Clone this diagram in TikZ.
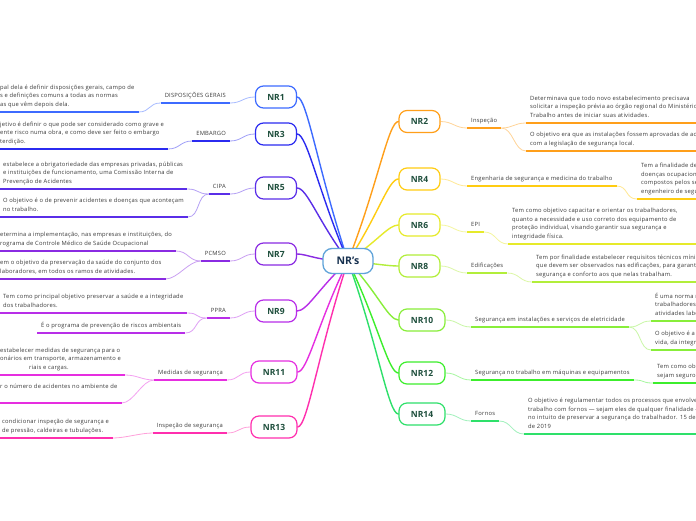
\documentclass[tikz,border=0pt]{standalone}
\usepackage{fontspec}
\setmainfont{Open Sans}
\newfontfamily\mapfont[LetterSpace=4]{Open Sans}
\usetikzlibrary{backgrounds}
\definecolor{rootc}{HTML}{5FA3D9}
\definecolor{roott}{HTML}{173150}
\definecolor{nrt}{HTML}{1F4F3D}
\definecolor{txt}{HTML}{3A3A3A}
\definecolor{c1}{HTML}{3D6BFF}
\definecolor{c3}{HTML}{2B2BF0}
\definecolor{c5}{HTML}{5A2EE8}
\definecolor{c7}{HTML}{8A2BE2}
\definecolor{c9}{HTML}{B82EE8}
\definecolor{c11}{HTML}{E62EE0}
\definecolor{c13}{HTML}{FF2FAE}
\definecolor{c2}{HTML}{FF9F1A}
\definecolor{c4}{HTML}{FFCC11}
\definecolor{c6}{HTML}{E6EA2A}
\definecolor{c8}{HTML}{B2EE3A}
\definecolor{c10}{HTML}{88EE3A}
\definecolor{c12}{HTML}{3CEE2C}
\definecolor{c14}{HTML}{2EE06A}
\tikzstyle{root}=[fill=white, draw=rootc, line width=1.3pt, rounded corners=9pt, minimum width=50pt, minimum height=25pt, text=roott, font=\fontsize{10.5}{12}\selectfont\bfseries]
\tikzstyle{nr}=[fill=white, line width=1.2pt, rounded corners=8pt, minimum width=41pt, minimum height=22pt, text=nrt, font=\fontsize{8.5}{10}\selectfont\bfseries]
\tikzstyle{nrw}=[nr, minimum width=46pt]
\tikzstyle{topic}=[text=txt, font=\mapfont\fontsize{5.8}{7}\selectfont, inner xsep=4pt, inner ysep=3.6pt, text height=4.3pt, text depth=1.5pt]
\tikzstyle{leaf}=[text=txt, font=\mapfont\fontsize{5.8}{8.5}\selectfont, align=left, inner xsep=4pt, inner ysep=3.2pt, execute at begin node=\strut, execute at end node=\strut]
\tikzstyle{branch}=[line width=1.4pt, line cap=round]
\tikzstyle{link}=[line width=0.8pt]
\tikzstyle{ul}=[line width=1.6pt]

\begin{document}
\begin{tikzpicture}[x=1pt, y=-1pt]
		\useasboundingbox (0,0) rectangle (696,520);
		\coordinate (edge) at (700,0);

		\node[style=root] (root) at (348,261) {NR's};

		\node[style=nr, draw=c1] (nr1) at (276,97) {NR1};
		\node[style=nr, draw=c3] (nr3) at (276,134) {NR3};
		\node[style=nr, draw=c5] (nr5) at (276,188) {NR5};
		\node[style=nr, draw=c7] (nr7) at (276,254) {NR7};
		\node[style=nr, draw=c9] (nr9) at (276,311) {NR9};
		\node[style=nrw, draw=c11] (nr11) at (274,372) {NR11};
		\node[style=nrw, draw=c13] (nr13) at (274,427) {NR13};

		\node[style=nr, draw=c2] (nr2) at (419.5,121.5) {NR2};
		\node[style=nr, draw=c4] (nr4) at (419.5,179) {NR4};
		\node[style=nr, draw=c6] (nr6) at (419.5,225) {NR6};
		\node[style=nr, draw=c8] (nr8) at (419.5,266) {NR8};
		\node[style=nrw, draw=c10] (nr10) at (422,320) {NR10};
		\node[style=nrw, draw=c12] (nr12) at (422,373) {NR12};
		\node[style=nrw, draw=c14] (nr14) at (422,414) {NR14};

		\node[style=topic, anchor=south east] (t1) at (230,103) {DISPOSIÇÕES GERAIS};
		\node[style=topic, anchor=south east] (t3) at (230,141) {EMBARGO};
		\node[style=topic, anchor=south east] (t5) at (230,194) {CIPA};
		\node[style=topic, anchor=south east] (t7) at (230,261) {PCMSO};
		\node[style=topic, anchor=south east] (t9) at (230,318) {PPRA};
		\node[style=topic, anchor=south east] (t11) at (227,380) {Medidas de segurança};
		\node[style=topic, anchor=south east] (t13) at (227,433) {Inspeção de segurança};

		\node[style=topic, anchor=south west] (t2) at (467,128) {Inspeção};
		\node[style=topic, anchor=south west] (t4) at (467,186) {Engenharia de segurança e medicina do trabalho};
		\node[style=topic, anchor=south west] (t6) at (467,232) {EPI};
		\node[style=topic, anchor=south west] (t8) at (467,273) {Edificações};
		\node[style=topic, anchor=south west] (t10) at (471,327) {Segurança em instalações e serviços de eletricidade};
		\node[style=topic, anchor=south west] (t12) at (471,380) {Segurança no trabalho em máquinas e equipamentos};
		\node[style=topic, anchor=south west] (t14) at (471,421) {Fornos};

		\node[style=leaf, anchor=south west] (l1) at (-4,112) {pal dela é definir disposições gerais, campo de\\ s e definições comuns a todas as normas\\ as que vêm depois dela.};
		\node[style=leaf, anchor=south west] (l3) at (-4,149) {jetivo é definir o que pode ser considerado como grave e\\ ente risco numa obra,  e como deve ser feito o embargo\\ terdição.};
		\node[style=leaf, anchor=south west] (l5a) at (-1,189) {estabelece a obrigatoriedade das empresas privadas, públicas\\ e instituições de funcionamento, uma Comissão Interna de\\ Prevenção de Acidentes};
		\node[style=leaf, anchor=south west] (l5b) at (-1,217) {O objetivo é o de prevenir acidentes e doenças que aconteçam\\ no trabalho.};
		\node[style=leaf, anchor=south west] (l7a) at (-4,251) {etermina a implementação, nas empresas e instituições, do\\ rograma de Controle Médico de Saúde Ocupacional};
		\node[style=leaf, anchor=south west] (l7b) at (-4,279) {em o objetivo da preservação da saúde do conjunto dos\\ laboradores, em todos os ramos de atividades.};
		\node[style=leaf, anchor=south west] (l9a) at (-1,313) {Tem como principal objetivo preservar a saúde e a integridade\\ dos trabalhadores.};
		\node[style=leaf, anchor=south west] (l9b) at (37,333) {É o programa de prevenção de riscos ambientais};
		\node[style=leaf, anchor=south west] (l11a) at (-4,375) {estabelecer medidas de segurança para o\\ onários em transporte, armazenamento e\\ \hspace*{29pt}riais e cargas.};
		\node[style=leaf, anchor=south west] (l11b) at (-4,403) {r o número de acidentes no ambiente de\\ \mbox{}};
		\node[style=leaf, anchor=south west] (l13) at (-2,438) {condicionar inspeção de segurança e\\ de pressão, caldeiras e tubulações.};

		\node[style=leaf, anchor=south west] (l2a) at (526,123) {Determinava que todo novo estabelecimento precisava\\ solicitar a inspeção prévia ao órgão regional do Ministério do\\ Trabalho antes de iniciar suas atividades.};
		\node[style=leaf, anchor=south west] (l2b) at (526,151) {O objetivo era que as instalações fossem aprovadas de acordo\\ com a legislação de segurança local.};
		\node[style=leaf, anchor=south west] (l4) at (637,199) {Tem a finalidade de\\ doenças ocupaciona\\ compostos pelos se\\ engenheiro de segu};
		\node[style=leaf, anchor=south west] (l6) at (508,244) {Tem como objetivo capacitar e orientar os trabalhadores,\\ quanto a necessidade e uso correto dos equipamento de\\ proteção individual, visando garantir sua segurança e\\ integridade física.};
		\node[style=leaf, anchor=south west] (l8) at (532,282) {Tem por finalidade estabelecer requisitos técnicos mínimos\\ que devem ser observados nas edificações, para garantir\\ segurança e conforto aos que nelas trabalham.};
		\node[style=leaf, anchor=south west] (l10a) at (651,321) {É uma norma r\\ trabalhadores\\ atividades labo};
		\node[style=leaf, anchor=south west] (l10b) at (651,350) {O objetivo é a p\\ vida, da integri};
		\node[style=leaf, anchor=south west] (l12) at (653,383) {Tem como ob\\ sejam seguro};
		\node[style=leaf, anchor=south west] (l14) at (524,434) {O objetivo é regulamentar todos os processos que envolvem\\ trabalho com fornos — sejam eles de qualquer finalidade —\\ no intuito de preservar a segurança do trabalhador. 15 de ma\\ de 2019};

	\begin{scope}[on background layer]
		\fill[white] (0,0) rectangle (696,520);

		\draw[branch, c1] (root.center) .. controls +(-30,-90) and +(10,0) .. (nr1.east);
		\draw[branch, c3] (root.center) .. controls +(-30,-70) and +(10,0) .. (nr3.east);
		\draw[branch, c5] (root.center) .. controls +(-30,-40) and +(10,0) .. (nr5.east);
		\draw[branch, c7] (root.center) .. controls +(-30,0) and +(10,0) .. (nr7.east);
		\draw[branch, c9] (root.center) .. controls +(-30,28) and +(10,0) .. (nr9.east);
		\draw[branch, c11] (root.center) .. controls +(-30,61) and +(10,0) .. (nr11.east);
		\draw[branch, c13] (root.center) .. controls +(-30,91) and +(10,0) .. (nr13.east);
		\draw[branch, c2] (root.center) .. controls +(30,-77) and +(-10,0) .. (nr2.west);
		\draw[branch, c4] (root.center) .. controls +(30,-45) and +(-10,0) .. (nr4.west);
		\draw[branch, c6] (root.center) .. controls +(30,-20) and +(-10,0) .. (nr6.west);
		\draw[branch, c8] (root.center) .. controls +(30,3) and +(-10,0) .. (nr8.west);
		\draw[branch, c10] (root.center) .. controls +(30,32) and +(-10,0) .. (nr10.west);
		\draw[branch, c12] (root.center) .. controls +(30,62) and +(-10,0) .. (nr12.west);
		\draw[branch, c14] (root.center) .. controls +(30,84) and +(-10,0) .. (nr14.west);

		\draw[link, c1!45] (nr1.west) .. controls +(-12,0) and +(12,0) .. (t1.south east);
		\draw[link, c1!45] (t1.south west) .. controls +(-12,0) and +(12,0) .. (l1.south east);
		\draw[ul, c1] (t1.south west) -- (t1.south east);
		\draw[ul, c1] (l1.south west) -- (l1.south east);

		\draw[link, c3!45] (nr3.west) .. controls +(-12,0) and +(12,0) .. (t3.south east);
		\draw[link, c3!45] (t3.south west) .. controls +(-12,0) and +(12,0) .. (l3.south east);
		\draw[ul, c3] (t3.south west) -- (t3.south east);
		\draw[ul, c3] (l3.south west) -- (l3.south east);

		\draw[link, c5!45] (nr5.west) .. controls +(-12,0) and +(12,0) .. (t5.south east);
		\draw[link, c5!45] (t5.south west) .. controls +(-12,0) and +(12,0) .. (l5a.south east);
		\draw[link, c5!45] (t5.south west) .. controls +(-12,0) and +(12,0) .. (l5b.south east);
		\draw[ul, c5] (t5.south west) -- (t5.south east);
		\draw[ul, c5] (l5a.south west) -- (l5a.south east);
		\draw[ul, c5] (l5b.south west) -- (l5b.south east);

		\draw[link, c7!45] (nr7.west) .. controls +(-12,0) and +(12,0) .. (t7.south east);
		\draw[link, c7!45] (t7.south west) .. controls +(-12,0) and +(12,0) .. (l7a.south east);
		\draw[link, c7!45] (t7.south west) .. controls +(-12,0) and +(12,0) .. (l7b.south east);
		\draw[ul, c7] (t7.south west) -- (t7.south east);
		\draw[ul, c7] (l7a.south west) -- (l7a.south east);
		\draw[ul, c7] (l7b.south west) -- (l7b.south east);

		\draw[link, c9!45] (nr9.west) .. controls +(-12,0) and +(12,0) .. (t9.south east);
		\draw[link, c9!45] (t9.south west) .. controls +(-12,0) and +(12,0) .. (l9a.south east);
		\draw[link, c9!45] (t9.south west) .. controls +(-12,0) and +(12,0) .. (l9b.south east);
		\draw[ul, c9] (t9.south west) -- (t9.south east);
		\draw[ul, c9] (l9a.south west) -- (l9a.south east);
		\draw[ul, c9] (l9b.south west) -- (l9b.south east);

		\draw[link, c11!45] (nr11.west) .. controls +(-12,0) and +(12,0) .. (t11.south east);
		\draw[link, c11!45] (t11.south west) .. controls +(-12,0) and +(12,0) .. (l11a.south east);
		\draw[link, c11!45] (t11.south west) .. controls +(-12,0) and +(12,0) .. (l11b.south east);
		\draw[ul, c11] (t11.south west) -- (t11.south east);
		\draw[ul, c11] (l11a.south west) -- (l11a.south east);
		\draw[ul, c11] (l11b.south west) -- (l11b.south east);

		\draw[link, c13!45] (nr13.west) .. controls +(-12,0) and +(12,0) .. (t13.south east);
		\draw[link, c13!45] (t13.south west) .. controls +(-12,0) and +(12,0) .. (l13.south east);
		\draw[ul, c13] (t13.south west) -- (t13.south east);
		\draw[ul, c13] (l13.south west) -- (l13.south east);

		\draw[link, c2!45] (nr2.east) .. controls +(12,0) and +(-12,0) .. (t2.south west);
		\draw[link, c2!45] (t2.south east) .. controls +(12,0) and +(-12,0) .. (l2a.south west);
		\draw[link, c2!45] (t2.south east) .. controls +(12,0) and +(-12,0) .. (l2b.south west);
		\draw[ul, c2] (t2.south west) -- (t2.south east);
		\draw[ul, c2] (l2a.south west) -- (l2a.south west -| edge);
		\draw[ul, c2] (l2b.south west) -- (l2b.south west -| edge);

		\draw[link, c4!45] (nr4.east) .. controls +(12,0) and +(-12,0) .. (t4.south west);
		\draw[link, c4!45] (t4.south east) .. controls +(12,0) and +(-12,0) .. (l4.south west);
		\draw[ul, c4] (t4.south west) -- (t4.south east);
		\draw[ul, c4] (l4.south west) -- (l4.south west -| edge);

		\draw[link, c6!45] (nr6.east) .. controls +(12,0) and +(-12,0) .. (t6.south west);
		\draw[link, c6!45] (t6.south east) .. controls +(12,0) and +(-12,0) .. (l6.south west);
		\draw[ul, c6] (t6.south west) -- (t6.south east);
		\draw[ul, c6] (l6.south west) -- (l6.south west -| edge);

		\draw[link, c8!45] (nr8.east) .. controls +(12,0) and +(-12,0) .. (t8.south west);
		\draw[link, c8!45] (t8.south east) .. controls +(12,0) and +(-12,0) .. (l8.south west);
		\draw[ul, c8] (t8.south west) -- (t8.south east);
		\draw[ul, c8] (l8.south west) -- (l8.south west -| edge);

		\draw[link, c10!45] (nr10.east) .. controls +(12,0) and +(-12,0) .. (t10.south west);
		\draw[link, c10!45] (t10.south east) .. controls +(12,0) and +(-12,0) .. (l10a.south west);
		\draw[link, c10!45] (t10.south east) .. controls +(12,0) and +(-12,0) .. (l10b.south west);
		\draw[ul, c10] (t10.south west) -- (t10.south east);
		\draw[ul, c10] (l10a.south west) -- (l10a.south west -| edge);
		\draw[ul, c10] (l10b.south west) -- (l10b.south west -| edge);

		\draw[link, c12!45] (nr12.east) .. controls +(12,0) and +(-12,0) .. (t12.south west);
		\draw[link, c12!45] (t12.south east) .. controls +(12,0) and +(-12,0) .. (l12.south west);
		\draw[ul, c12] (t12.south west) -- (t12.south east);
		\draw[ul, c12] (l12.south west) -- (l12.south west -| edge);

		\draw[link, c14!45] (nr14.east) .. controls +(12,0) and +(-12,0) .. (t14.south west);
		\draw[link, c14!45] (t14.south east) .. controls +(12,0) and +(-12,0) .. (l14.south west);
		\draw[ul, c14] (t14.south west) -- (t14.south east);
		\draw[ul, c14] (l14.south west) -- (l14.south west -| edge);
	\end{scope}
\end{tikzpicture}
\end{document}
